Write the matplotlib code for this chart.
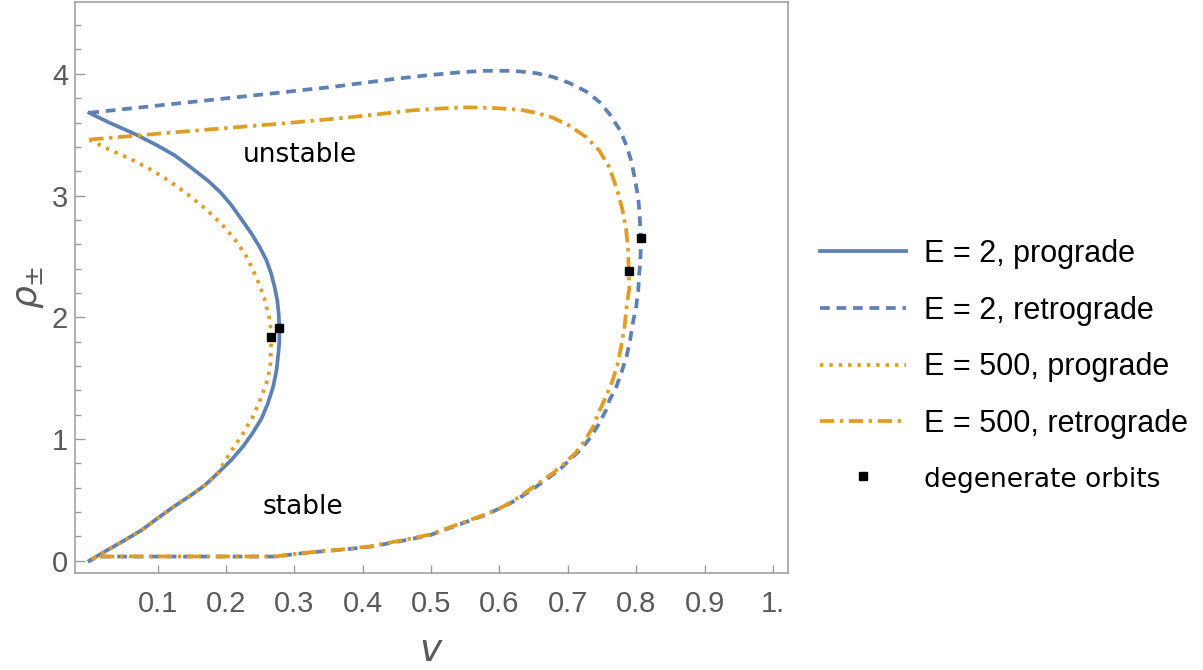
import numpy as np
import matplotlib.pyplot as plt
from matplotlib.lines import Line2D
from matplotlib.legend_handler import HandlerLine2D

# ─── Curve data: v (x) against rho_± (y) ────────────────────────────────────────
v_pro_2 = [0.0, 0.027, 0.069, 0.100, 0.125, 0.149, 0.174, 0.193, 0.208, 0.222, 0.237,
           0.249, 0.259, 0.266, 0.271, 0.275, 0.277, 0.278, 0.278, 0.277, 0.274, 0.269,
           0.261, 0.252, 0.239, 0.225, 0.208, 0.188, 0.169, 0.149, 0.125, 0.100, 0.076,
           0.052, 0.027, 0.0]
rho_pro_2 = [3.68, 3.605, 3.50, 3.41, 3.33, 3.23, 3.12, 3.02, 2.92, 2.81, 2.69,
             2.58, 2.47, 2.36, 2.25, 2.14, 2.03, 1.92, 1.81, 1.73, 1.57, 1.43,
             1.29, 1.17, 1.05, 0.94, 0.83, 0.72, 0.62, 0.54, 0.45, 0.35, 0.25,
             0.17, 0.09, 0.0]

v_retro_2 = [0.0, 0.286, 0.317, 0.352, 0.400, 0.449, 0.498, 0.547, 0.581, 0.610, 0.630,
             0.654, 0.678, 0.702, 0.727, 0.746, 0.761, 0.776, 0.786, 0.793, 0.798, 0.803,
             0.805, 0.807, 0.806, 0.804, 0.803, 0.800, 0.795, 0.791, 0.786, 0.778, 0.771,
             0.761, 0.756, 0.746, 0.734, 0.720, 0.703, 0.688, 0.669, 0.649, 0.630, 0.615,
             0.600, 0.581, 0.542, 0.498, 0.454, 0.410, 0.371, 0.337, 0.303, 0.273, 0.013,
             0.0]
rho_retro_2 = [3.68, 3.85, 3.87, 3.89, 3.925, 3.96, 3.99, 4.015, 4.025, 4.025, 4.02,
               4.005, 3.975, 3.925, 3.855, 3.77, 3.67, 3.54, 3.41, 3.28, 3.14, 2.98,
               2.84, 2.62, 2.46, 2.33, 2.22, 2.09, 1.95, 1.81, 1.68, 1.54, 1.43,
               1.32, 1.24, 1.13, 1.02, 0.92, 0.83, 0.75, 0.67, 0.59, 0.52, 0.47,
               0.43, 0.38, 0.30, 0.21, 0.16, 0.115, 0.092, 0.076, 0.057, 0.035, 0.035,
               0.0]

v_pro_500 = [0.0, 0.032, 0.061, 0.091, 0.117, 0.144, 0.168, 0.193, 0.213, 0.231, 0.245,
             0.256, 0.264, 0.266, 0.266, 0.265, 0.261, 0.252, 0.239, 0.222, 0.205, 0.188,
             0.169, 0.149, 0.125, 0.100, 0.076, 0.052, 0.027, 0.0]
rho_pro_500 = [3.46, 3.37, 3.30, 3.21, 3.12, 3.01, 2.90, 2.77, 2.64, 2.49, 2.32,
               2.16, 1.98, 1.87, 1.79, 1.62, 1.49, 1.35, 1.18, 1.02, 0.88, 0.72,
               0.62, 0.54, 0.45, 0.35, 0.25, 0.17, 0.09, 0.0]

v_retro_500 = [0.0, 0.125, 0.278, 0.327, 0.376, 0.425, 0.473, 0.513, 0.552, 0.590, 0.630,
               0.654, 0.678, 0.702, 0.727, 0.746, 0.761, 0.773, 0.780, 0.785, 0.788, 0.789,
               0.790, 0.786, 0.783, 0.778, 0.773, 0.766, 0.756, 0.746, 0.737, 0.725, 0.712,
               0.695, 0.678, 0.658, 0.639, 0.620, 0.600, 0.581, 0.542, 0.498, 0.454, 0.410,
               0.371, 0.337, 0.303, 0.273, 0.013, 0.0]
rho_retro_500 = [3.46, 3.52, 3.59, 3.615, 3.64, 3.67, 3.70, 3.715, 3.725, 3.72, 3.705,
                 3.68, 3.64, 3.575, 3.48, 3.37, 3.23, 3.03, 2.88, 2.73, 2.57, 2.40,
                 2.24, 2.09, 1.92, 1.76, 1.62, 1.49, 1.35, 1.23, 1.10, 0.99, 0.89,
                 0.80, 0.72, 0.64, 0.565, 0.49, 0.43, 0.385, 0.305, 0.215, 0.165, 0.118,
                 0.094, 0.078, 0.058, 0.036, 0.036, 0.0]

v_degen = [0.277, 0.266, 0.807, 0.789]
rho_degen = [1.91, 1.84, 2.65, 2.38]

x_ticks = [0.1, 0.2, 0.3, 0.4, 0.5, 0.6, 0.7, 0.8, 0.9, 1.0]
x_tick_labels = ["0.1", "0.2", "0.3", "0.4", "0.5", "0.6", "0.7", "0.8", "0.9", "1."]
y_ticks = [0, 1, 2, 3, 4]

# ─── Style ──────────────────────────────────────────────────────────────────────
BLUE = "#5E81B5"
ORANGE = "#E19C24"
FRAME = "#9a9a9a"
LABEL = "#5a5a5a"
LW = 2.7

styles = {
    "pro_2": dict(color=BLUE, lw=LW, ls="-"),
    "retro_2": dict(color=BLUE, lw=LW, ls=(0, (2.6, 1.8))),
    "pro_500": dict(color=ORANGE, lw=LW, ls=(0, (0.9, 1.6))),
    "retro_500": dict(color=ORANGE, lw=LW, ls=(0, (3.8, 1.5, 0.9, 1.5))),
}

fig = plt.figure(figsize=(12.03, 6.70), dpi=100)
ax = fig.add_axes([0.0623, 0.1448, 0.5927, 0.8522])

# blue first so the orange dashes sit on top where the curves coincide
ax.plot(v_pro_2, rho_pro_2, **styles["pro_2"])
ax.plot(v_retro_2, rho_retro_2, dash_capstyle="butt", **styles["retro_2"])
ax.plot(v_pro_500, rho_pro_500, dash_capstyle="butt", **styles["pro_500"])
ax.plot(v_retro_500, rho_retro_500, dash_capstyle="butt", **styles["retro_500"])
ax.plot(v_degen, rho_degen, ls="none", marker="s", ms=6, color="black", zorder=5)

ax.text(0.308, 3.33, "unstable", fontsize=19, family="DejaVu Sans",
        ha="center", va="center")
ax.text(0.312, 0.44, "stable", fontsize=19, family="DejaVu Sans",
        ha="center", va="center")

ax.set_xlim(-0.021, 1.022)
ax.set_ylim(-0.1, 4.59)

ax.set_xticks(x_ticks)
ax.set_xticklabels(x_tick_labels)
ax.set_yticks(y_ticks)
ax.set_yticks(np.arange(-0.0, 4.5, 0.2), minor=True)

for sp in ax.spines.values():
    sp.set_color(FRAME)
    sp.set_linewidth(1.1)

ax.tick_params(axis="both", which="both", direction="in", color=FRAME,
               labelcolor=LABEL, labelsize=21, width=1.0)
ax.tick_params(axis="x", which="major", length=6, pad=12)
ax.tick_params(axis="y", which="major", length=7, pad=5)
ax.tick_params(axis="y", which="minor", length=4)
for lab in ax.get_xticklabels() + ax.get_yticklabels():
    lab.set_family("Liberation Sans")

ax.set_xlabel("$v$", fontsize=27, color=LABEL, labelpad=11)
ax.set_ylabel(r"$\rho_{\pm}$", fontsize=26, color=LABEL, labelpad=4)


class HandlerRightPoint(HandlerLine2D):
    # put the single marker near the right end of the handle box
    def get_xdata(self, legend, xdescent, ydescent, width, height, fontsize):
        xd, _ = super().get_xdata(legend, xdescent, ydescent, width, height, fontsize)
        xm = np.array([-xdescent + width * 0.86])
        return xd, xm


handles = [Line2D([], [], dash_capstyle="butt", **styles[k])
           for k in ["pro_2", "retro_2", "pro_500", "retro_500"]]
handles.append(Line2D([], [], ls="none", marker="s", ms=6, color="black"))
labels = ["E = 2, prograde", "E = 2, retrograde", "E = 500, prograde",
          "E = 500, retrograde", "degenerate orbits"]

leg = fig.legend(handles, labels, loc="upper left", bbox_to_anchor=(0.682, 0.643),
                 frameon=False, handlelength=2.8, handletextpad=0.6,
                 labelspacing=0.87, borderpad=0, borderaxespad=0,
                 handler_map={handles[-1]: HandlerRightPoint(numpoints=1)},
                 prop={"family": "Liberation Sans", "size": 22})
for t in leg.get_texts()[-1:]:
    t.set_family("DejaVu Sans")
    t.set_fontsize(19)

fig.savefig("out.png", dpi=100)
